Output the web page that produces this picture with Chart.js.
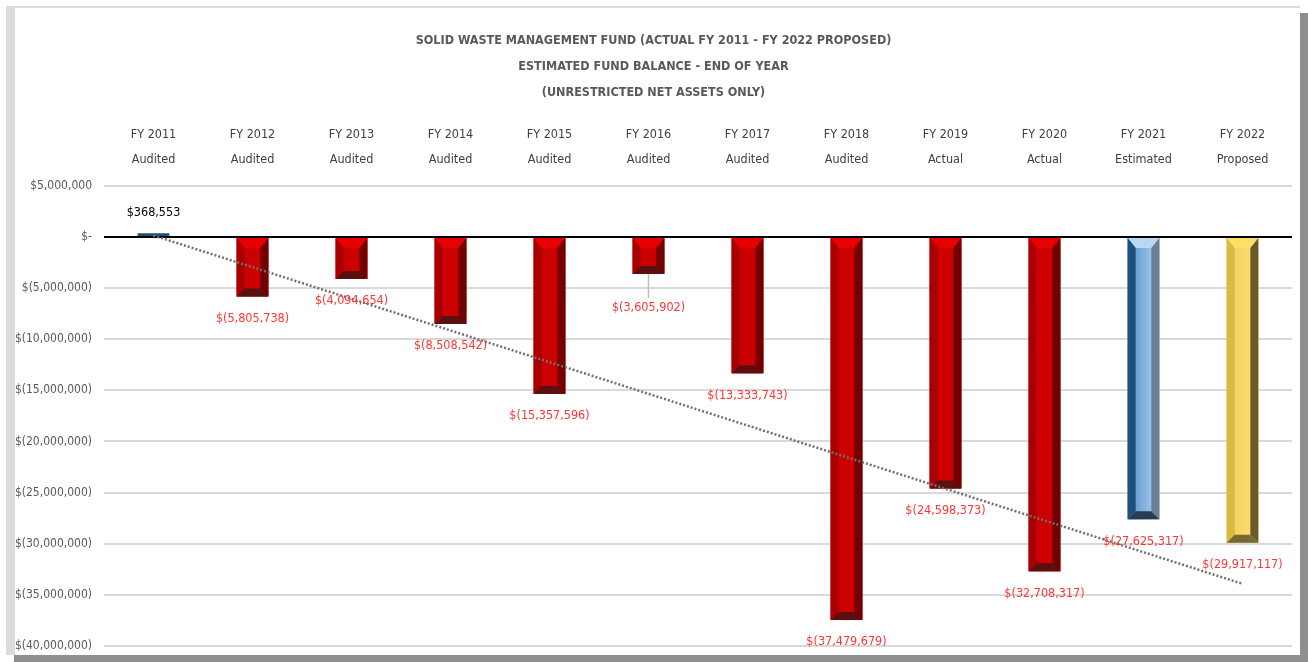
<!DOCTYPE html>
<html>
<head>
<meta charset="utf-8">
<script src="https://cdn.jsdelivr.net/npm/chart.js@4.4.0/dist/chart.umd.min.js"></script>
<style>
  html, body { margin: 0; padding: 0; background: #fff; }
  #frame {
    position: absolute; left: 6px; top: 6px; width: 1285px; height: 647px; overflow: hidden;
    border-top: 2px solid #dcdcdc; border-left: 9px solid #dcdcdc;
    box-shadow: 8px 7px 0 #8f8f8f; background: #fff;
  }
  canvas { display: block; }
</style>
</head>
<body>
<div id="frame"><canvas id="chart" width="1285" height="657"></canvas></div>
<script>
// fiscal years and their status line
const years = ["FY 2011", "FY 2012", "FY 2013", "FY 2014", "FY 2015", "FY 2016",
  "FY 2017", "FY 2018", "FY 2019", "FY 2020", "FY 2021", "FY 2022"];
const statuses = ["Audited", "Audited", "Audited", "Audited", "Audited", "Audited",
  "Audited", "Audited", "Actual", "Actual", "Estimated", "Proposed"];
// end of year fund balance (unrestricted net assets)
const balances = [368553, -5805738, -4094654, -8508542, -15357596, -3605902,
  -13333743, -37479679, -24598373, -32708317, -27625317, -29917117];

const titleLines = [
  "SOLID WASTE MANAGEMENT FUND (ACTUAL FY 2011 - FY 2022 PROPOSED)",
  "ESTIMATED FUND BALANCE - END OF YEAR",
  "(UNRESTRICTED NET ASSETS ONLY)"
];

const FONT = "'Liberation Sans Narrow', 'DejaVu Sans Condensed', 'Roboto', sans-serif";

//bevel colours for each kind of bar
const bevelStyles = {
  positive: { face: "#1f4e79", top: "#1f4e79", left: "#1f4e79", right: "#1f4e79", bottom: "#1f4e79" },
  Audited: { face: "#cc0000", top: "#e60000", left: "#a80000", right: "#720000", bottom: "#5a1010" },
  Actual: { face: "#cc0000", top: "#e60000", left: "#a80000", right: "#720000", bottom: "#5a1010" },
  Estimated: { face: ["#4f8fcc", "#b3d3f0"], top: "#b8d8f4", left: "#1f4e79", right: "#6b7f93", bottom: "#283d52" },
  Proposed: { face: ["#f2cf55", "#fbe07a"], top: "#ffe066", left: "#d9b948", right: "#6b5a28", bottom: "#7a6833" }
};
const styleFor = (i) => balances[i] >= 0 ? bevelStyles.positive : bevelStyles[statuses[i]];

//least squares trend line through the balances (like Excel's linear trendline)
function linearTrend(vals) {
  const n = vals.length;
  let sx = 0, sy = 0, sxy = 0, sxx = 0;
  vals.forEach((v, i) => { sx += i; sy += v; sxy += i * v; sxx += i * i; });
  const slope = (n * sxy - sx * sy) / (n * sxx - sx * sx);
  const icpt = (sy - slope * sx) / n;
  return vals.map((_, i) => icpt + slope * i);
}

const money = (v) => {
  if (v === 0) return "$-";
  const s = Math.abs(v).toLocaleString("en-US");
  return v < 0 ? "$(" + s + ")" : "$" + s;
};

function poly(ctx, pts, color) {
  ctx.beginPath();
  ctx.moveTo(pts[0][0], pts[0][1]);
  for (let k = 1; k < pts.length; k++) ctx.lineTo(pts[k][0], pts[k][1]);
  ctx.closePath();
  ctx.fillStyle = color;
  ctx.fill();
}

//draws the bevelled look on top of the plain bars
const bevelPlugin = {
  id: "bevel",
  afterDatasetDraw(chart, args) {
    if (args.index !== 0) return;
    const ctx = chart.ctx;
    args.meta.data.forEach((bar, i) => {
      if (balances[i] >= 0) return;
      const st = styleFor(i);
      const L = bar.x - bar.width / 2, R = bar.x + bar.width / 2;
      const T = Math.min(bar.y, bar.base), B = Math.max(bar.y, bar.base);
      const h = B - T;
      const b = Math.min(8, h / 4), bt = Math.min(10, h / 3);
      ctx.save();
      let face = st.face;
      if (Array.isArray(face)) {
        const g = ctx.createLinearGradient(L, 0, R, 0);
        g.addColorStop(0, face[0]);
        g.addColorStop(1, face[1]);
        face = g;
      }
      ctx.fillStyle = face;
      ctx.fillRect(L, T, R - L, h);
      poly(ctx, [[L, T], [R, T], [R - b, T + bt], [L + b, T + bt]], st.top);
      poly(ctx, [[L, T], [L + b, T + bt], [L + b, B - b], [L, B]], st.left);
      poly(ctx, [[R, T], [R, B], [R - b, B - b], [R - b, T + bt]], st.right);
      poly(ctx, [[L, B], [L + b, B - b], [R - b, B - b], [R, B]], st.bottom);
      ctx.restore();
    });
  }
};

//extra drop (px) for labels that were moved down in the original, with a leader line
const labelDrop = { 5: 12 };

const labelPlugin = {
  id: "barLabels",
  afterDatasetsDraw(chart) {
    const ctx = chart.ctx;
    const meta = chart.getDatasetMeta(0);
    ctx.save();
    ctx.font = "12.5px " + FONT;
    ctx.textAlign = "center";
    ctx.textBaseline = "middle";
    meta.data.forEach((bar, i) => {
      const v = balances[i];
      if (v >= 0) {
        ctx.fillStyle = "#000000";
        ctx.fillText(money(v), bar.x, bar.y - 21);
      } else {
        const drop = labelDrop[i] || 0;
        const y = bar.y + 22 + drop;
        if (drop) {
          ctx.strokeStyle = "#bfbfbf";
          ctx.lineWidth = 1.5;
          ctx.beginPath();
          ctx.moveTo(bar.x, bar.y);
          ctx.lineTo(bar.x, y - 10);
          ctx.stroke();
        }
        ctx.fillStyle = "#ff3535";
        ctx.fillText(money(v), bar.x, y);
      }
    });
    ctx.restore();
  }
};

const ctx = document.getElementById("chart");
new Chart(ctx, {
  data: {
    labels: years.map((y, i) => [y, statuses[i]]),
    datasets: [
      {
        type: "bar",
        data: balances,
        order: 1,
        backgroundColor: balances.map((_, i) => {
          const f = styleFor(i).face;
          return Array.isArray(f) ? f[0] : f;
        }),
        borderWidth: 0,
        barPercentage: 0.32,
        categoryPercentage: 1
      },
      {
        type: "line",
        data: linearTrend(balances),
        order: 0,
        borderColor: "#707070",
        borderWidth: 2.5,
        borderDash: [2, 2],
        pointRadius: 0,
        fill: false,
        tension: 0
      }
    ]
  },
  plugins: [bevelPlugin, labelPlugin],
  options: {
    responsive: false,
    animation: false,
    layout: { autoPadding: false, padding: { left: 0, right: 8, top: 0, bottom: 0 } },
    plugins: {
      legend: { display: false },
      tooltip: { enabled: false },
      title: {
        display: true,
        text: titleLines,
        color: "#595959",
        font: { family: FONT, size: 12.5, weight: "bold", lineHeight: 2.08 },
        padding: { top: 20, bottom: 2 }
      }
    },
    scales: {
      x: {
        position: "top",
        grid: { display: false, drawTicks: false },
        border: { display: false },
        ticks: {
          color: "#404040",
          font: { family: FONT, size: 12.5, lineHeight: 2 },
          padding: 14,
          maxRotation: 0,
          autoSkip: false
        }
      },
      y: {
        min: -40000000,
        max: 5000000,
        border: { display: false },
        afterFit: (s) => { s.width = 89; },
        grid: {
          drawTicks: false,
          color: (c) => c.tick && c.tick.value === 0 ? "#000000" : "#d9d9d9",
          lineWidth: 2
        },
        ticks: {
          stepSize: 5000000,
          color: "#595959",
          padding: 12,
          font: { family: FONT, size: 12 },
          callback: (v) => money(v)
        }
      }
    }
  }
});
</script>
</body>
</html>
